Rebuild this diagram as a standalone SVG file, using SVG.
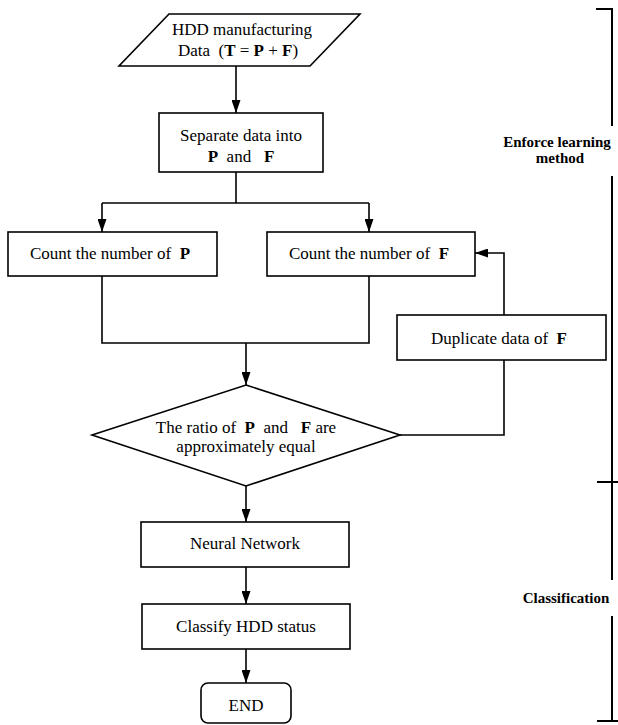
<svg xmlns="http://www.w3.org/2000/svg" width="618" height="725" viewBox="0 0 618 725">
<style>
  .shape { fill: #fff; stroke: #000; stroke-width: 1.6; }
  .t { font-family: "Liberation Serif", "Times New Roman", serif; font-size: 17px; fill: #000; text-anchor: middle; white-space: pre; }
  .b { font-weight: bold; }
  .lbl { font-family: "Liberation Serif", "Times New Roman", serif; font-size: 15px; font-weight: bold; fill: #000; text-anchor: middle; }
  .conn { fill: none; stroke: #000; stroke-width: 1.6; }
  .brk { fill: none; stroke: #000; stroke-width: 2; }
</style>
<defs>
  <marker id="ah" viewBox="0 0 13 9" refX="13" refY="4.5" markerWidth="13" markerHeight="9" markerUnits="userSpaceOnUse" orient="auto">
    <path d="M0,0 L13,4.5 L0,9 z" fill="#000"/>
  </marker>
</defs>
<rect width="618" height="725" fill="#fff"/>

<g id="connectors">
  <path class="conn" d="M236,66 V113" marker-end="url(#ah)"/>
  <path class="conn" d="M236,172 V203"/>
  <path class="conn" d="M102,203 H369"/>
  <path class="conn" d="M102,203 V232" marker-end="url(#ah)"/>
  <path class="conn" d="M369,203 V232" marker-end="url(#ah)"/>
  <path class="conn" d="M102,276 V343 H369 V276"/>
  <path class="conn" d="M246,343 V385" marker-end="url(#ah)"/>
  <path class="conn" d="M400,435 H504 V360"/>
  <path class="conn" d="M504,315 V253 H475" marker-end="url(#ah)"/>
  <path class="conn" d="M246,486 V522" marker-end="url(#ah)"/>
  <path class="conn" d="M246,567 V604" marker-end="url(#ah)"/>
  <path class="conn" d="M246,649 V683" marker-end="url(#ah)"/>
</g>

<g id="input">
  <polygon class="shape" points="169,14 360,14 310,66 119,66"/>
  <text class="t" x="242" y="35">HDD manufacturing</text>
  <text class="t" x="238" y="56" xml:space="preserve">Data  (<tspan class="b">T</tspan> = <tspan class="b">P</tspan> + <tspan class="b">F</tspan>)</text>
</g>

<g id="separate">
  <rect class="shape" x="159" y="113" width="164" height="59"/>
  <text class="t" x="241" y="141">Separate data into</text>
  <text class="t" x="241" y="162" xml:space="preserve"><tspan class="b">P</tspan>  and   <tspan class="b">F</tspan></text>
</g>

<g id="countP">
  <rect class="shape" x="8" y="232" width="209" height="44"/>
  <text class="t" x="110" y="259" xml:space="preserve">Count the number of  <tspan class="b">P</tspan></text>
</g>

<g id="countF">
  <rect class="shape" x="267" y="232" width="208" height="44"/>
  <text class="t" x="369" y="259" xml:space="preserve">Count the number of  <tspan class="b">F</tspan></text>
</g>

<g id="duplicate">
  <rect class="shape" x="397" y="315" width="209" height="45"/>
  <text class="t" x="499" y="344" xml:space="preserve">Duplicate data of  <tspan class="b">F</tspan></text>
</g>

<g id="ratio">
  <polygon class="shape" points="246,385 400,435 246,486 92,435"/>
  <text class="t" x="246" y="433" xml:space="preserve">The ratio of  <tspan class="b">P</tspan>  and   <tspan class="b">F</tspan> are</text>
  <text class="t" x="246" y="452">approximately equal</text>
</g>

<g id="neural">
  <rect class="shape" x="141" y="522" width="208" height="45"/>
  <text class="t" x="245" y="549">Neural Network</text>
</g>

<g id="classify">
  <rect class="shape" x="142" y="604" width="208" height="45"/>
  <text class="t" x="246" y="632">Classify HDD status</text>
</g>

<g id="end">
  <rect class="shape" x="201" y="683" width="90" height="40" rx="7" ry="7"/>
  <text class="t" x="246" y="711">END</text>
</g>

<g id="phases">
  <path class="brk" d="M596,9 H612 V126"/>
  <text class="lbl" x="557" y="147">Enforce learning</text>
  <text class="lbl" x="560" y="163">method</text>
  <path class="brk" d="M612,176 V580"/>
  <path class="brk" d="M597,482 H618"/>
  <text class="lbl" x="566" y="603">Classification</text>
  <path class="brk" d="M612,616 V721 H597"/>
  <path class="brk" d="M612,721 H618"/>
</g>
</svg>
